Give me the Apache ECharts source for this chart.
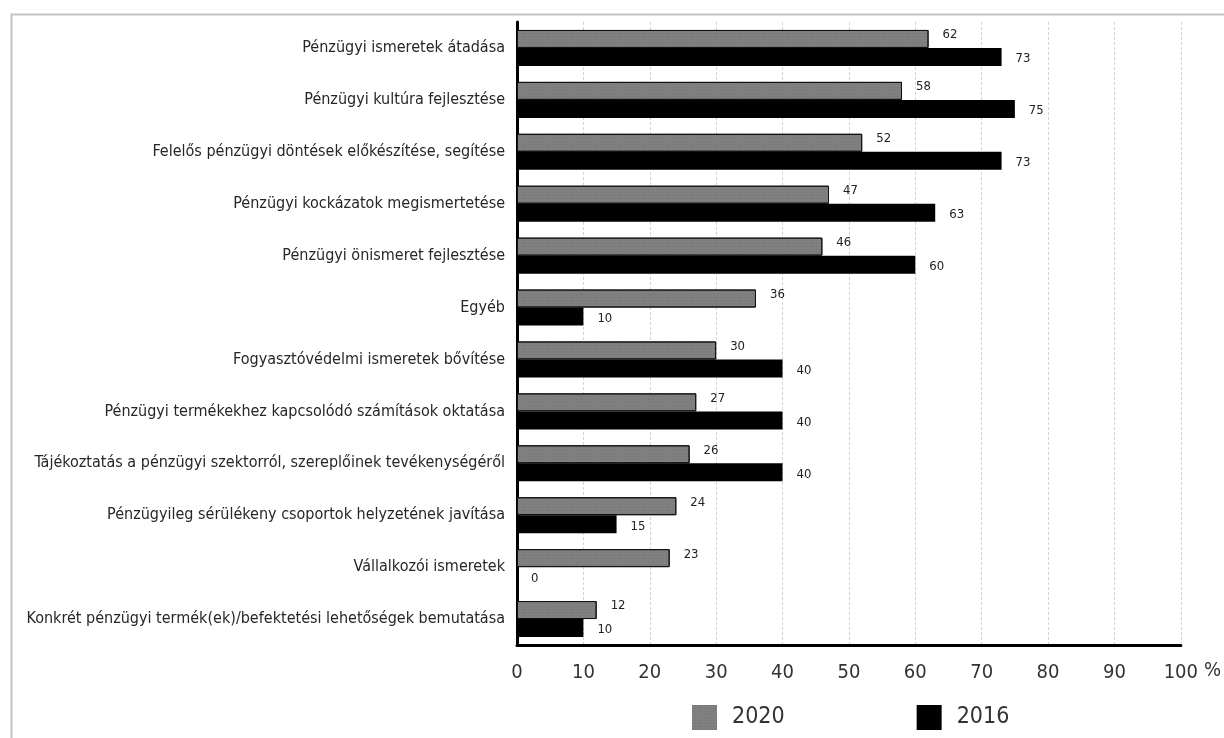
<!DOCTYPE html>
<html>
<head>
<meta charset="utf-8">
<script src="https://cdn.jsdelivr.net/npm/echarts@6/dist/echarts.min.js"></script>
<style>
  html, body { margin: 0; padding: 0; background: #fff; }
  #chart { width: 1224px; height: 738px; }
</style>
</head>
<body>
<div id="chart"></div>
<script>
// adatok
const categories = [
  'Pénzügyi ismeretek átadása',
  'Pénzügyi kultúra fejlesztése',
  'Felelős pénzügyi döntések előkészítése, segítése',
  'Pénzügyi kockázatok megismertetése',
  'Pénzügyi önismeret fejlesztése',
  'Egyéb',
  'Fogyasztóvédelmi ismeretek bővítése',
  'Pénzügyi termékekhez kapcsolódó számítások oktatása',
  'Tájékoztatás a pénzügyi szektorról, szereplőinek tevékenységéről',
  'Pénzügyileg sérülékeny csoportok helyzetének javítása',
  'Vállalkozói ismeretek',
  'Konkrét pénzügyi termék(ek)/befektetési lehetőségek bemutatása'
];
const values2020 = [62, 58, 52, 47, 46, 36, 30, 27, 26, 24, 23, 12];
const values2016 = [73, 75, 73, 63, 60, 10, 40, 40, 40, 15, 0, 10];
const seriesNames = ['2020', '2016'];

const FONT = "'DejaVu Sans Condensed', 'Liberation Sans', sans-serif";

const chart = echarts.init(document.getElementById('chart'));

const option = {
  animation: false,
  textStyle: { fontFamily: FONT },
  // halvány keret a kép körül
  graphic: [{
    type: 'rect',
    left: 9, top: 12,
    shape: { width: 1300, height: 800 },
    style: { fill: 'none', stroke: '#c4c4c4', lineWidth: 2 },
    silent: true
  }],
  grid: { left: 517, right: 39, top: 22, bottom: 93 },
  legend: {
    data: seriesNames,
    left: 687,
    top: 700,
    itemWidth: 25,
    itemHeight: 25,
    itemGap: 132,
    icon: 'rect',
    itemStyle: { borderWidth: 0 },
    textStyle: { fontFamily: FONT, fontSize: 23, color: '#333', padding: [0, 0, 0, 10] }
  },
  xAxis: {
    type: 'value',
    min: 0, max: 100, interval: 10,
    name: '%',
    nameLocation: 'end',
    nameGap: 20,
    nameTextStyle: { fontFamily: FONT, fontSize: 20, color: '#333', verticalAlign: 'top', padding: [16, 0, 0, 0] },
    axisLine: { show: true, lineStyle: { color: '#000', width: 3 } },
    axisTick: { show: false },
    axisLabel: { fontFamily: FONT, fontSize: 20, color: '#333', margin: 18 },
    splitLine: { show: true, lineStyle: { color: '#d4d4d4', width: 1, type: [3, 2] } }
  },
  yAxis: {
    type: 'category',
    data: categories,
    inverse: true,
    axisLine: { show: true, onZero: false, lineStyle: { color: '#000', width: 3 } },
    axisTick: { show: false },
    axisLabel: { fontFamily: FONT, fontSize: 16, color: '#262626', margin: 12 }
  },
  series: [
    {
      name: seriesNames[0],
      type: 'bar',
      data: values2020,
      barWidth: 18,
      barGap: '0%',
      itemStyle: {
        color: '#808080', borderColor: '#111', borderWidth: 1,
        decal: { symbol: 'rect', symbolSize: 1, color: 'rgba(0,0,0,0.1)', dashArrayX: [1, 2], dashArrayY: [1, 2] }
      },
      label: {
        show: true, position: 'right', distance: 14, offset: [0, -4],
        fontFamily: FONT, fontSize: 13, color: '#222'
      }
    },
    {
      name: seriesNames[1],
      type: 'bar',
      data: values2016,
      barWidth: 18,
      barGap: '0%',
      itemStyle: { color: '#000' },
      label: {
        show: true, position: 'right', distance: 14, offset: [0, 2],
        fontFamily: FONT, fontSize: 13, color: '#222'
      }
    }
  ]
};

chart.setOption(option);
</script>
</body>
</html>
